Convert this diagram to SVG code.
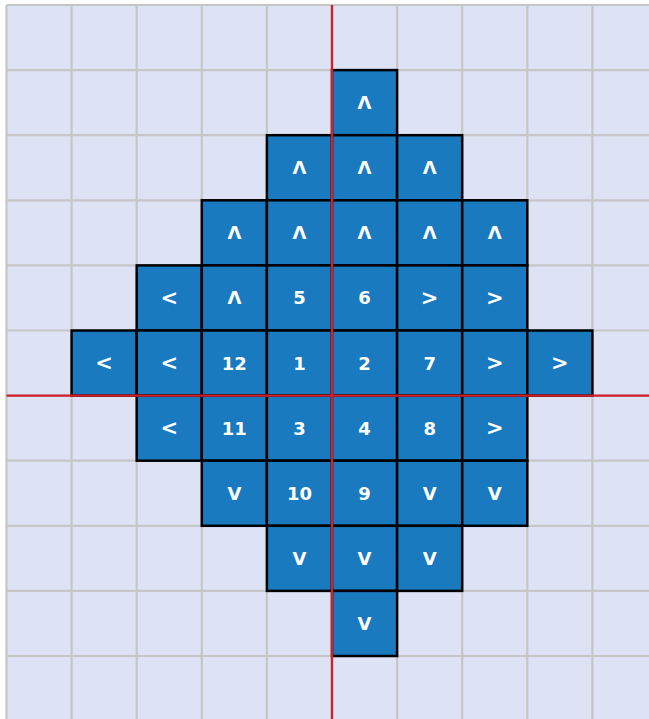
<svg xmlns="http://www.w3.org/2000/svg" width="649" height="719" viewBox="0 0 649 719">
<style>
.grid{stroke:#c6c6c6;stroke-width:2.2;fill:none}
.cell rect{fill:#1a7abf;stroke:#000;stroke-width:2.5}
.cell text{fill:#fff;font-family:"DejaVu Sans",sans-serif;font-weight:bold;font-size:18px;text-anchor:middle;dominant-baseline:central}
.cell text.a{font-size:21px}
.axis{stroke:#d21f2b;stroke-width:2.4}
</style>
<rect x="6.5" y="5" width="643" height="714" fill="#dde3f5"/>
<g id="grid" class="grid">
<path d="M6.5 5V719M71.6 5V719M136.7 5V719M201.8 5V719M266.9 5V719M332 5V719M397.1 5V719M462.2 5V719M527.3 5V719M592.4 5V719"/>
<path d="M6.5 5H649M6.5 70.1H649M6.5 135.2H649M6.5 200.3H649M6.5 265.4H649M6.5 330.5H649M6.5 395.6H649M6.5 460.7H649M6.5 525.8H649M6.5 590.9H649M6.5 656H649"/>
</g>
<g id="r1-c5" class="cell"><rect x="332" y="70.1" width="65.1" height="65.1"/><text x="364.55" y="102.65">Λ</text></g>
<g id="r2-c4" class="cell"><rect x="266.9" y="135.2" width="65.1" height="65.1"/><text x="299.45" y="167.75">Λ</text></g>
<g id="r2-c5" class="cell"><rect x="332" y="135.2" width="65.1" height="65.1"/><text x="364.55" y="167.75">Λ</text></g>
<g id="r2-c6" class="cell"><rect x="397.1" y="135.2" width="65.1" height="65.1"/><text x="429.65" y="167.75">Λ</text></g>
<g id="r3-c3" class="cell"><rect x="201.8" y="200.3" width="65.1" height="65.1"/><text x="234.35" y="232.85">Λ</text></g>
<g id="r3-c4" class="cell"><rect x="266.9" y="200.3" width="65.1" height="65.1"/><text x="299.45" y="232.85">Λ</text></g>
<g id="r3-c5" class="cell"><rect x="332" y="200.3" width="65.1" height="65.1"/><text x="364.55" y="232.85">Λ</text></g>
<g id="r3-c6" class="cell"><rect x="397.1" y="200.3" width="65.1" height="65.1"/><text x="429.65" y="232.85">Λ</text></g>
<g id="r3-c7" class="cell"><rect x="462.2" y="200.3" width="65.1" height="65.1"/><text x="494.75" y="232.85">Λ</text></g>
<g id="r4-c2" class="cell"><rect x="136.7" y="265.4" width="65.1" height="65.1"/><text class="a" x="169.25" y="297.95">&lt;</text></g>
<g id="r4-c3" class="cell"><rect x="201.8" y="265.4" width="65.1" height="65.1"/><text x="234.35" y="297.95">Λ</text></g>
<g id="r4-c4" class="cell"><rect x="266.9" y="265.4" width="65.1" height="65.1"/><text x="299.45" y="297.95">5</text></g>
<g id="r4-c5" class="cell"><rect x="332" y="265.4" width="65.1" height="65.1"/><text x="364.55" y="297.95">6</text></g>
<g id="r4-c6" class="cell"><rect x="397.1" y="265.4" width="65.1" height="65.1"/><text class="a" x="429.65" y="297.95">&gt;</text></g>
<g id="r4-c7" class="cell"><rect x="462.2" y="265.4" width="65.1" height="65.1"/><text class="a" x="494.75" y="297.95">&gt;</text></g>
<g id="r5-c1" class="cell"><rect x="71.6" y="330.5" width="65.1" height="65.1"/><text class="a" x="104.15" y="363.05">&lt;</text></g>
<g id="r5-c2" class="cell"><rect x="136.7" y="330.5" width="65.1" height="65.1"/><text class="a" x="169.25" y="363.05">&lt;</text></g>
<g id="r5-c3" class="cell"><rect x="201.8" y="330.5" width="65.1" height="65.1"/><text x="234.35" y="363.05">12</text></g>
<g id="r5-c4" class="cell"><rect x="266.9" y="330.5" width="65.1" height="65.1"/><text x="299.45" y="363.05">1</text></g>
<g id="r5-c5" class="cell"><rect x="332" y="330.5" width="65.1" height="65.1"/><text x="364.55" y="363.05">2</text></g>
<g id="r5-c6" class="cell"><rect x="397.1" y="330.5" width="65.1" height="65.1"/><text x="429.65" y="363.05">7</text></g>
<g id="r5-c7" class="cell"><rect x="462.2" y="330.5" width="65.1" height="65.1"/><text class="a" x="494.75" y="363.05">&gt;</text></g>
<g id="r5-c8" class="cell"><rect x="527.3" y="330.5" width="65.1" height="65.1"/><text class="a" x="559.85" y="363.05">&gt;</text></g>
<g id="r6-c2" class="cell"><rect x="136.7" y="395.6" width="65.1" height="65.1"/><text class="a" x="169.25" y="428.15">&lt;</text></g>
<g id="r6-c3" class="cell"><rect x="201.8" y="395.6" width="65.1" height="65.1"/><text x="234.35" y="428.15">11</text></g>
<g id="r6-c4" class="cell"><rect x="266.9" y="395.6" width="65.1" height="65.1"/><text x="299.45" y="428.15">3</text></g>
<g id="r6-c5" class="cell"><rect x="332" y="395.6" width="65.1" height="65.1"/><text x="364.55" y="428.15">4</text></g>
<g id="r6-c6" class="cell"><rect x="397.1" y="395.6" width="65.1" height="65.1"/><text x="429.65" y="428.15">8</text></g>
<g id="r6-c7" class="cell"><rect x="462.2" y="395.6" width="65.1" height="65.1"/><text class="a" x="494.75" y="428.15">&gt;</text></g>
<g id="r7-c3" class="cell"><rect x="201.8" y="460.7" width="65.1" height="65.1"/><text x="234.35" y="493.25">V</text></g>
<g id="r7-c4" class="cell"><rect x="266.9" y="460.7" width="65.1" height="65.1"/><text x="299.45" y="493.25">10</text></g>
<g id="r7-c5" class="cell"><rect x="332" y="460.7" width="65.1" height="65.1"/><text x="364.55" y="493.25">9</text></g>
<g id="r7-c6" class="cell"><rect x="397.1" y="460.7" width="65.1" height="65.1"/><text x="429.65" y="493.25">V</text></g>
<g id="r7-c7" class="cell"><rect x="462.2" y="460.7" width="65.1" height="65.1"/><text x="494.75" y="493.25">V</text></g>
<g id="r8-c4" class="cell"><rect x="266.9" y="525.8" width="65.1" height="65.1"/><text x="299.45" y="558.35">V</text></g>
<g id="r8-c5" class="cell"><rect x="332" y="525.8" width="65.1" height="65.1"/><text x="364.55" y="558.35">V</text></g>
<g id="r8-c6" class="cell"><rect x="397.1" y="525.8" width="65.1" height="65.1"/><text x="429.65" y="558.35">V</text></g>
<g id="r9-c5" class="cell"><rect x="332" y="590.9" width="65.1" height="65.1"/><text x="364.55" y="623.45">V</text></g>
<g id="axes" class="axis">
<line x1="332" y1="5" x2="332" y2="719"/>
<line x1="6.5" y1="395.6" x2="649" y2="395.6"/>
</g>
</svg>
